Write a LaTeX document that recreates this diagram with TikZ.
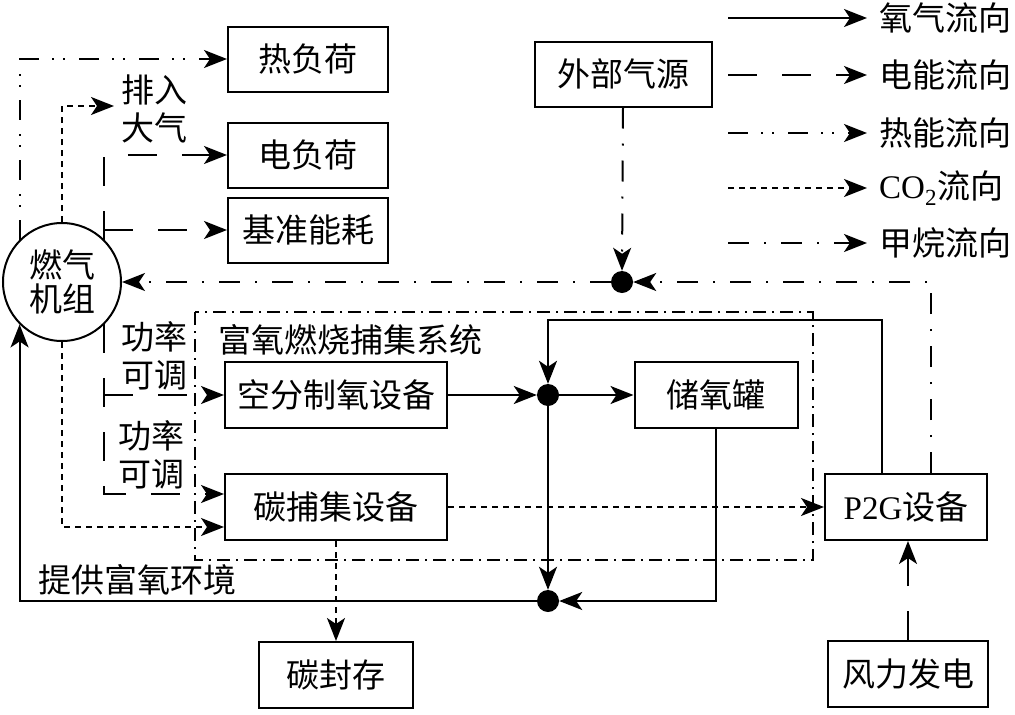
\documentclass[tikz,border=0pt]{standalone}
\usepackage{fontspec}
\setmainfont{Liberation Serif}
\newfontfamily\cjk{Noto Sans CJK SC}
\usetikzlibrary{arrows.meta,calc}
\begin{document}
\begin{tikzpicture}[x=1pt,y=-1pt,
  txt/.style={font=\cjk\fontsize{33}{38}\selectfont, inner sep=0pt, align=center},
  box/.style={draw, line width=2pt, inner sep=0pt, font=\cjk\fontsize{33}{38}\selectfont},
  dot/.style={circle, fill=black, inner sep=0pt, minimum size=22pt},
  tip/.style={-{Stealth[length=23pt,width=18pt,inset=6pt]}},
  ln/.style={line width=2pt},
  o2/.style={ln, tip},
  elec/.style={ln, tip, dash pattern=on 29pt off 25pt},
  heat/.style={ln, tip, dash pattern=on 20pt off 13pt on 2pt off 9pt on 2pt off 14pt},
  co2/.style={ln, tip, dash pattern=on 6pt off 5pt},
  ch4/.style={ln, tip, dash pattern=on 21pt off 15pt on 2pt off 15pt},
  sys/.style={line width=1.6pt, dash pattern=on 13pt off 6pt on 2pt off 6pt}]
\useasboundingbox (0,0) rectangle (1015,715);
% system box
\draw[sys] (195,312) rectangle (813,560);
\node[txt] (systitle) at (350,340) {富氧燃烧捕集系统};
% nodes
\node[box, minimum width=160pt, minimum height=65pt] (rfh) at (308,59) {热负荷};
\node[box, minimum width=177pt, minimum height=65pt] (wbqy) at (623,74) {外部气源};
\node[box, minimum width=160pt, minimum height=65pt] (dfh) at (308,155) {电负荷};
\node[box, minimum width=160pt, minimum height=65pt] (jz) at (308,230) {基准能耗};
\node[box, circle, minimum size=118pt, align=center] (gt) at (62,282) {燃气\\[-4pt]机组};
\node[box, minimum width=222pt, minimum height=66pt] (kf) at (336,395) {空分制氧设备};
\node[box, minimum width=222pt, minimum height=66pt] (tb) at (336,507) {碳捕集设备};
\node[box, minimum width=163pt, minimum height=66pt] (cy) at (716,395) {储氧罐};
\node[box, minimum width=162pt, minimum height=66pt] (p2g) at (906,507) {{\rmfamily P2G}设备};
\node[box, minimum width=154pt, minimum height=66pt] (tfc) at (336,675) {碳封存};
\node[box, minimum width=160pt, minimum height=66pt] (fl) at (908,674) {风力发电};
\node[dot] (j1) at (622,282) {};
\node[dot] (j2) at (548,395) {};
\node[dot] (j3) at (548,601) {};
% labels
\node[txt] (pr) at (154,109) {排入\\大气};
\node[txt] (gl1) at (154,356) {功率\\可调};
\node[txt] (gl2) at (151,455) {功率\\可调};
\node[txt] (tg) at (137,580) {提供富氧环境};
% heat
\draw[heat] (gt.135) |- (rfh.west);
% co2 from turbine
\coordinate (prc) at (114,106);
\draw[co2] (gt.north) |- (prc);
\draw[co2] (gt.south) |- ($(tb.west)+(0,20)$);
% electricity
\draw[elec] (gt.45) |- (dfh.west);
\draw[elec] (gt.45 |- jz.west) -- (jz.west);
\draw[elec] (gt.-45) |- ($(tb.west)+(0,-13)$);
\draw[elec] (gt.-45 |- kf.west) -- (kf.west);
\draw[elec] (fl.north) -- (fl.north |- p2g.south);
% methane
\draw[ch4] (wbqy.south) -- (j1.north);
\draw[ch4] ($(p2g.north)+(25,0)$) |- (j1.east);
\draw[ch4] (j1.west) -- (gt.east);
% oxygen
\draw[o2] (kf.east) -- (j2.west);
\draw[o2] (j2.east) -- (cy.west);
\draw[o2] ($(p2g.north)+(-24,0)$) -- ++(0,-153) -| (j2.north);
\draw[o2] (j2.south) -- (j3.north);
\draw[o2] (cy.south) |- (j3.east);
\draw[o2] (j3.west) -| (gt.-135);
% co2
\draw[co2] (tb.east) -- (p2g.west);
\draw[co2] (tb.south) -- (tfc.north);
% legend
\foreach \yy/\st/\nm/\lab in {18/o2/la/氧气流向, 75/elec/lb/电能流向, 133/heat/lc/热能流向, 188/co2/ld/{{\rmfamily CO\textsubscript{2}}流向}, 243/ch4/le/甲烷流向}{
  \coordinate (\nm s) at (728,\yy);
  \node[txt, anchor=west] (\nm) at (879,\yy) {\lab};
  \draw[\st] (\nm s) -- ($(\nm.west)+(-12,0)$);
}
\end{tikzpicture}
\end{document}
